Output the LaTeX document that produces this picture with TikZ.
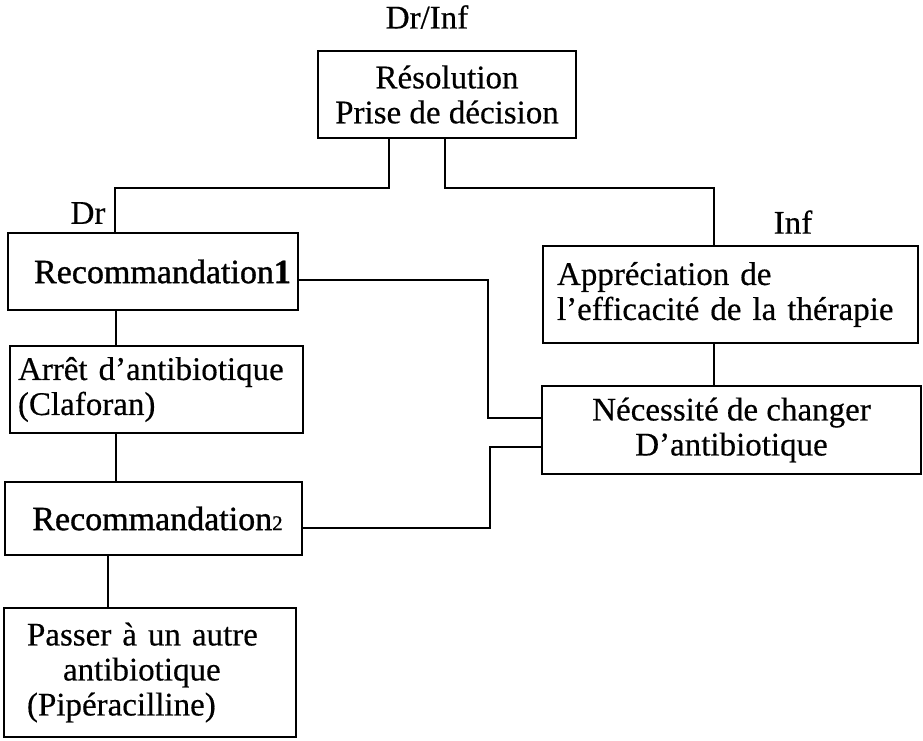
\documentclass[tikz,border=0pt]{standalone}
\usepackage{fontspec}
\setmainfont{Liberation Serif}[FakeBold=0.4]
\newfontfamily\recfont{Liberation Serif}[FakeBold=1]
\tikzset{
  box/.style={draw, line width=2.5pt, rectangle, inner sep=0pt,
              font=\fontsize{33}{35}\selectfont},
  recbox/.style={box, font=\recfont\fontsize{34}{35}\selectfont},
  tag/.style={inner sep=0pt, font=\fontsize{33}{35}\selectfont},
  wire/.style={line width=2.5pt},
}
\begin{document}
\begin{tikzpicture}[x=1pt,y=-1pt]
\useasboundingbox (0,0) rectangle (923,741);

% boxes
\node[box, minimum width=258pt, minimum height=87pt, align=center] (res) at (447,94.5)
  {Résolution\\Prise de décision};
\node[recbox, minimum width=290pt, minimum height=77pt] (rec1) at (153,271.5)
  {\hspace*{19pt}Recommandation\textbf{1}};
\node[box, text width=277pt, inner xsep=8pt, minimum height=87pt, align=left] (arret) at (156.5,389.5)
  {Arrêt d’antibiotique\\(Claforan)};
\node[recbox, minimum width=297pt, minimum height=73pt] (rec2) at (153.5,518.5)
  {\hspace*{8pt}Recommandation{\fontsize{21}{35}\selectfont 2}};
\node[box, text width=246pt, inner xsep=23pt, minimum height=129pt, align=left] (passer) at (150,672.5)
  {Passer à un autre\\\hspace*{36pt}antibiotique\\(Pipéracilline)};
\node[box, text width=347pt, inner xsep=14pt, minimum height=97pt, align=left] (appr) at (730.5,294.5)
  {Appréciation de\\l’efficacité de la thérapie};
\node[box, minimum width=379pt, minimum height=88pt, align=center] (necess) at (731.5,430)
  {Nécessité de changer\\D’antibiotique};

% actor labels
\node[tag] (lboth) at (427,17) {Dr/Inf};
\node[tag] (ldr) at (88,213) {Dr};
\node[tag] (linf) at (793,222) {Inf};

% bend points
\coordinate (jl) at (389,188);
\coordinate (jr) at (445,188);
\coordinate (dl) at (115,0);
\coordinate (dr) at (714,0);
\coordinate (m1) at (488,280);
\coordinate (m1b) at (488,418);
\coordinate (m2) at (490,528);
\coordinate (m2b) at (490,447);
\coordinate (vl) at (116,0);
\coordinate (vp) at (108,0);

% connectors
\draw[wire] (jl |- res.south) -- (jl) -- (dl |- jl) -- (dl |- rec1.north);
\draw[wire] (jr |- res.south) -- (jr) -- (dr |- jr) -- (dr |- appr.north);
\draw[wire] (m1 -| rec1.east) -- (m1) -- (m1b) -- (m1b -| necess.west);
\draw[wire] (m2 -| rec2.east) -- (m2) -- (m2b) -- (m2b -| necess.west);
\draw[wire] (vl |- rec1.south) -- (vl |- arret.north);
\draw[wire] (vl |- arret.south) -- (vl |- rec2.north);
\draw[wire] (vp |- rec2.south) -- (vp |- passer.north);
\draw[wire] (dr |- appr.south) -- (dr |- necess.north);
\end{tikzpicture}
\end{document}
